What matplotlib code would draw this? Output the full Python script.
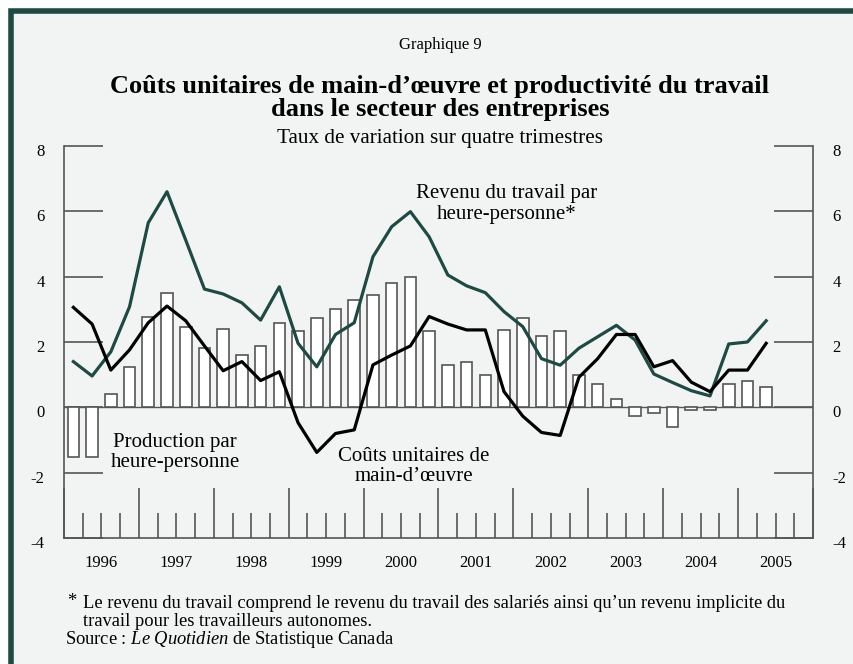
import matplotlib.pyplot as plt
import matplotlib.patches as patches
import matplotlib.transforms as mtransforms
import numpy as np

plt.rcParams['font.family'] = ['Liberation Serif', 'DejaVu Serif']
plt.rcParams['mathtext.fontset'] = 'custom'
plt.rcParams['mathtext.rm'] = 'Liberation Serif'
plt.rcParams['mathtext.it'] = 'Liberation Serif:italic'

# quarterly data, 1996Q1 .. 2005Q2
production = [-1.51, -1.51, 0.41, 1.22, 2.78, 3.51, 2.45, 1.83, 2.41, 1.59,
              1.89, 2.58, 2.35, 2.74, 3.02, 3.29, 3.45, 3.82, 3.99, 2.35,
              1.29, 1.39, 1.00, 2.38, 2.74, 2.17, 2.35, 0.98, 0.70, 0.27,
              -0.27, -0.18, -0.61, -0.08, -0.08, 0.70, 0.80, 0.61]
revenu = [1.40, 0.96, 1.70, 3.08, 5.65, 6.60, 5.12, 3.62, 3.47, 3.20,
          2.67, 3.69, 1.96, 1.24, 2.23, 2.59, 4.61, 5.53, 5.99, 5.22,
          4.05, 3.72, 3.51, 2.93, 2.47, 1.49, 1.29, 1.81, 2.16, 2.51,
          2.06, 1.02, 0.76, 0.51, 0.35, 1.94, 2.00, 2.65]
couts = [3.06, 2.55, 1.14, 1.76, 2.59, 3.10, 2.65, 1.88, 1.12, 1.40,
         0.82, 1.09, -0.47, -1.38, -0.80, -0.69, 1.30, 1.60, 1.88, 2.78,
         2.55, 2.37, 2.37, 0.48, -0.27, -0.77, -0.86, 0.92, 1.49, 2.23,
         2.23, 1.24, 1.43, 0.77, 0.48, 1.14, 1.14, 1.96]
years = [1996, 1997, 1998, 1999, 2000, 2001, 2002, 2003, 2004, 2005]
yticks = [-4, -2, 0, 2, 4, 6, 8]

bg = '#f2f4f3'
green = '#1d4a42'
grey = '#555555'

fig = plt.figure(figsize=(8.54, 6.64), dpi=100)
fig.patch.set_facecolor('white')
# background panel with dark border on top and left
panel = patches.Rectangle((11/854, -0.1), 1.2, 1 - 11/664 + 0.1,
                          transform=fig.transFigure, facecolor=bg,
                          edgecolor=green, linewidth=4, zorder=-10)
fig.patches.append(panel)

ax = fig.add_axes([64/854, 1 - 538/664, 749/854, 392/664])
ax.patch.set_visible(False)

x = np.arange(len(production)) + 0.5
ax.bar(x, production, width=0.62, color='white', edgecolor=grey, linewidth=1.2, zorder=2)
ax.plot(x, revenu, color=green, linewidth=2.3, zorder=3)
ax.plot(x, couts, color='black', linewidth=2.3, zorder=3)
ax.axhline(0, color=grey, linewidth=1, zorder=1)

ax.set_xlim(0, 40)
ax.set_ylim(-4, 8)

ax.spines['top'].set_visible(False)
for s in ['left', 'right', 'bottom']:
    ax.spines[s].set_color(grey)
    ax.spines[s].set_linewidth(1.2)

ax.set_yticks(yticks)
ax.set_yticklabels([str(v) for v in yticks])
ax.tick_params(axis='y', direction='in', length=28, width=1.2, color=grey,
               labelsize=12, left=True, right=True, labelleft=True, labelright=True, pad=14)
# labels sit a little below their ticks
shift = mtransforms.ScaledTranslation(0, -4/100, fig.dpi_scale_trans)
for t in ax.yaxis.get_major_ticks():
    t.label1.set_transform(t.label1.get_transform() + shift)
    t.label2.set_transform(t.label2.get_transform() + shift)

# quarter ticks (short) and year ticks (long), drawn up from the bottom
ax.set_xticks(np.arange(0, 41, 4))
ax.set_xticks(np.arange(0, 41, 1), minor=True)
ax.tick_params(axis='x', which='major', direction='in', length=36, width=1.2,
               color=grey, labelbottom=False)
ax.tick_params(axis='x', which='minor', direction='in', length=18, width=1.2,
               color=grey)
for i, yr in enumerate(years):
    ax.text(i * 4 + 2, -4.77, str(yr), ha='center', va='center', fontsize=12)

ax.text(23.66, 6.22, 'Revenu du travail par\nheure-personne*', ha='center', va='center',
        fontsize=15, linespacing=1.15)
ax.text(5.93, -1.38, 'Production par\nheure-personne', ha='center', va='center',
        fontsize=15, linespacing=1.05)
ax.text(18.69, -1.81, 'Coûts unitaires de\nmain-d\u2019œuvre', ha='center', va='center',
        fontsize=15, linespacing=1.1)

cx = 440 / 854
fig.text(cx, 1 - 45/664, 'Graphique 9', ha='center', va='center', fontsize=12)
fig.text(cx, 1 - 98/664, 'Coûts unitaires de main-d\u2019œuvre et productivité du travail\ndans le secteur des entreprises',
         ha='center', va='center', fontsize=19, fontweight='bold', linespacing=0.95)
fig.text(cx, 1 - 138/664, 'Taux de variation sur quatre trimestres', ha='center', va='center', fontsize=15.2)

fig.text(67/854, 1 - 602/664, '*', ha='left', va='center', fontsize=13.3)
fig.text(83/854, 1 - 612.5/664, 'Le revenu du travail comprend le revenu du travail des salariés ainsi qu\u2019un revenu implicite du\ntravail pour les travailleurs autonomes.',
         ha='left', va='center', fontsize=13.3, linespacing=1.15)
fig.text(65/854, 1 - 639/664, 'Source : $\\it{Le\\ Quotidien}$ de Statistique Canada',
         ha='left', va='center', fontsize=13.3)

fig.savefig('out.png', dpi=100, facecolor=fig.get_facecolor())
